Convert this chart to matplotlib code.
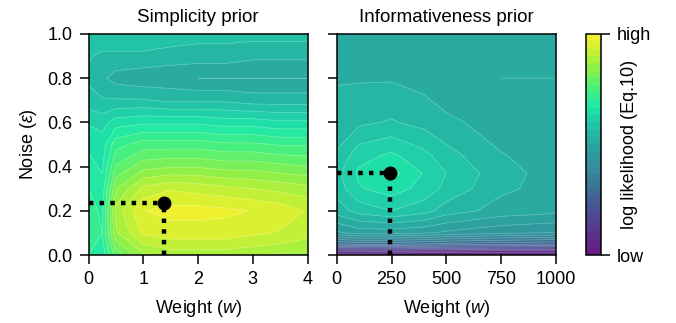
import numpy as np
import matplotlib
matplotlib.use('Agg')
import matplotlib.pyplot as plt
from matplotlib.colors import LinearSegmentedColormap

plt.rcParams['font.family'] = ['Liberation Sans', 'DejaVu Sans']
plt.rcParams['font.size'] = 13
plt.rcParams['mathtext.fontset'] = 'custom'
plt.rcParams['mathtext.it'] = 'Liberation Sans:italic'
plt.rcParams['mathtext.rm'] = 'Liberation Sans'

# grid for the simplicity prior (values: relative log likelihood, 0 = low, 1 = high)
w_simp = [0, 0.25, 0.5, 1, 1.5, 2, 2.5, 3, 3.5, 4]
eps_simp = [0, 0.05, 0.1, 0.2, 0.3, 0.4, 0.5, 0.6, 0.7, 0.8, 0.9, 1.0]
ll_simp = [
    [0.70, 0.68, 0.78, 0.86, 0.88, 0.88, 0.88, 0.87, 0.86, 0.86],
    [0.71, 0.69, 0.82, 0.90, 0.92, 0.92, 0.92, 0.91, 0.90, 0.89],
    [0.72, 0.70, 0.86, 0.94, 0.95, 0.95, 0.95, 0.94, 0.93, 0.91],
    [0.72, 0.69, 0.88, 0.965, 0.98, 0.98, 0.975, 0.965, 0.955, 0.93],
    [0.70, 0.68, 0.83, 0.91, 0.93, 0.92, 0.91, 0.90, 0.89, 0.88],
    [0.68, 0.66, 0.77, 0.82, 0.83, 0.83, 0.82, 0.82, 0.81, 0.80],
    [0.66, 0.65, 0.72, 0.75, 0.75, 0.75, 0.74, 0.74, 0.73, 0.73],
    [0.63, 0.62, 0.65, 0.66, 0.66, 0.66, 0.65, 0.65, 0.64, 0.64],
    [0.58, 0.57, 0.57, 0.57, 0.56, 0.56, 0.56, 0.55, 0.55, 0.55],
    [0.56, 0.54, 0.52, 0.51, 0.51, 0.50, 0.50, 0.50, 0.50, 0.50],
    [0.57, 0.56, 0.56, 0.56, 0.55, 0.55, 0.55, 0.54, 0.54, 0.54],
    [0.60, 0.59, 0.59, 0.59, 0.59, 0.58, 0.58, 0.58, 0.58, 0.58],
]

# grid for the informativeness prior
w_inf = [0, 100, 250, 400, 500, 750, 1000]
eps_inf = [0, 0.02, 0.05, 0.1, 0.2, 0.3, 0.37, 0.45, 0.6, 0.8, 1.0]
ll_inf = [
    [0.03, 0.03, 0.02, 0.02, 0.02, 0.02, 0.02],
    [0.12, 0.12, 0.12, 0.11, 0.11, 0.10, 0.10],
    [0.30, 0.31, 0.31, 0.30, 0.29, 0.28, 0.27],
    [0.46, 0.48, 0.48, 0.47, 0.46, 0.44, 0.43],
    [0.55, 0.58, 0.60, 0.58, 0.55, 0.52, 0.51],
    [0.58, 0.63, 0.65, 0.62, 0.59, 0.54, 0.52],
    [0.59, 0.64, 0.68, 0.63, 0.60, 0.545, 0.52],
    [0.57, 0.62, 0.64, 0.61, 0.58, 0.535, 0.52],
    [0.55, 0.56, 0.57, 0.555, 0.54, 0.52, 0.51],
    [0.53, 0.53, 0.53, 0.52, 0.51, 0.50, 0.50],
    [0.53, 0.52, 0.52, 0.52, 0.51, 0.51, 0.51],
]

# maximum likelihood estimates
best_simp = (1.37, 0.235)
best_inf = (245, 0.37)

cmap = LinearSegmentedColormap.from_list('ll', [
    (0.00, '#6a1885'), (0.20, '#4a4f92'), (0.35, '#3a7f98'),
    (0.50, '#2aa5a0'), (0.60, '#22c8a8'), (0.67, '#1ee8a8'),
    (0.75, '#45f080'), (0.85, '#90f045'), (0.95, '#d8f030'), (1.00, '#f8f030')])
levels = np.linspace(0, 1, 31)

fig = plt.figure(figsize=(6.76, 3.23), dpi=100)
ax1 = fig.add_axes([88.5 / 676, 1 - 255 / 323, 219 / 676, 221 / 323])
ax2 = fig.add_axes([336.7 / 676, 1 - 255 / 323, 219.5 / 676, 221 / 323])
cax = fig.add_axes([586 / 676, 1 - 255 / 323, 14.5 / 676, 221 / 323])

panels = [
    (ax1, w_simp, eps_simp, ll_simp, best_simp, 'Simplicity prior'),
    (ax2, w_inf, eps_inf, ll_inf, best_inf, 'Informativeness prior'),
]
for ax, wv, ev, ll, best, title in panels:
    W, E = np.meshgrid(wv, ev)
    Z = np.array(ll)
    cs = ax.contourf(W, E, Z, levels=levels, cmap=cmap)
    ax.contour(W, E, Z, levels=levels, colors='white', linewidths=0.5, alpha=0.3)
    ax.plot([0, best[0]], [best[1], best[1]], color='black', lw=3.2, ls=(0, (1, 1.4)))
    ax.plot([best[0], best[0]], [0, best[1]], color='black', lw=3.2, ls=(0, (1, 1.4)))
    ax.plot(*best, 'o', color='black', ms=9)
    ax.set_xlim(wv[0], wv[-1])
    ax.set_ylim(0, 1)
    ax.set_title(title, pad=9, fontsize=13.5)
    ax.set_xlabel('Weight ($w$)', labelpad=7)
    ax.tick_params(length=6.5, width=1.1, pad=5)
    for s in ax.spines.values():
        s.set_linewidth(1.1)

ax1.set_xticks([0, 1, 2, 3, 4])
ax1.set_yticks([0, 0.2, 0.4, 0.6, 0.8, 1.0])
ax1.set_ylabel(r'Noise ($\varepsilon$)', labelpad=6)
ax2.set_xticks([0, 250, 500, 750, 1000])
ax2.set_yticks([0, 0.2, 0.4, 0.6, 0.8, 1.0])
ax2.set_yticklabels([])

cb = fig.colorbar(cs, cax=cax, ticks=[0, 1])
cb.ax.set_yticklabels(['low', 'high'])
cb.ax.tick_params(length=6.5, width=1.1, pad=5)
cb.outline.set_linewidth(1.1)
cb.set_label('log likelihood (Eq.10)')
cb.ax.yaxis.set_label_coords(2.4, 0.5)

fig.savefig('out.png', dpi=100)
